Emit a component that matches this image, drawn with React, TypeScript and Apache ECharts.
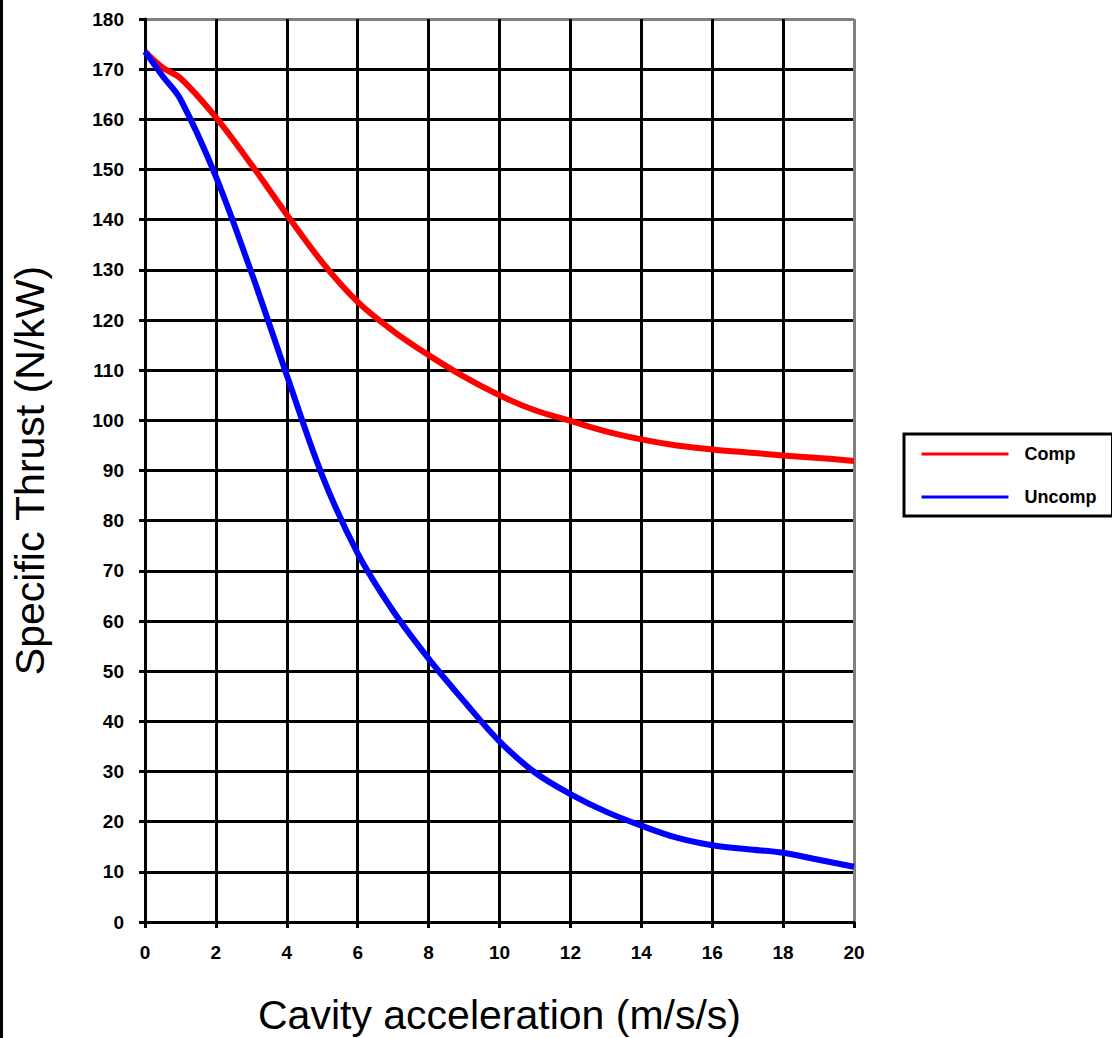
import React, { useEffect, useRef } from "react";
import * as echarts from "echarts";

const xValues = [0, 0.5, 1, 2, 3, 4, 5, 6, 7, 8, 9, 10, 11, 12, 13, 14, 15, 16, 17, 18, 19, 20];
const compValues = [173.5, 170.3, 168.2, 160.4, 151, 141, 131.5, 123.6, 117.8, 113, 108.7, 105, 102, 99.9, 97.8, 96.2, 95, 94.2, 93.6, 93, 92.5, 91.9];
const uncompValues = [173.5, 168.6, 164, 148.6, 129.5, 109, 89, 73.5, 62, 52.5, 44, 36, 29.8, 25.5, 22, 19.2, 16.8, 15.3, 14.5, 13.8, 12.4, 11];
const seriesNames = ["Comp", "Uncomp"];
const xTitle = "Cavity acceleration (m/s/s)";
const yTitle = "Specific Thrust (N/kW)";

export default function App() {
  const ref = useRef<HTMLDivElement>(null);
  useEffect(() => {
    if (!ref.current) return;
    const chart = echarts.init(ref.current, undefined, { renderer: "svg" });
    const ySplitColors = [...Array(18).fill("#000000"), "#808080"];
    const xSplitColors = [...Array(10).fill("#000000"), "#808080"];
    const labelStyle = {
      fontFamily: "Liberation Sans, Arial, sans-serif",
      fontWeight: "bold" as const,
      fontSize: 19,
      color: "#000000",
    };
    chart.setOption({
      animation: false,
      backgroundColor: "#ffffff",
      grid: { left: 145, right: 258, top: 19, bottom: 116, outerBoundsMode: "none" },
      xAxis: {
        type: "value",
        min: 0,
        max: 20,
        interval: 2,
        name: xTitle,
        nameLocation: "middle",
        nameGap: 72,
        nameTextStyle: { fontFamily: "Liberation Sans, Arial, sans-serif", fontSize: 41, color: "#000000" },
        axisLine: { show: true, onZero: false, lineStyle: { color: "#000000", width: 3 } },
        axisTick: { show: true, length: 6, lineStyle: { color: "#000000", width: 3 } },
        axisLabel: { ...labelStyle, margin: 21 },
        splitLine: { show: true, lineStyle: { color: xSplitColors, width: 3 } },
      },
      yAxis: {
        type: "value",
        min: 0,
        max: 180,
        interval: 10,
        name: yTitle,
        nameLocation: "middle",
        nameGap: 95,
        nameRotate: 90,
        nameTextStyle: { fontFamily: "Liberation Sans, Arial, sans-serif", fontSize: 41, color: "#000000" },
        axisLine: { show: true, lineStyle: { color: "#000000", width: 3 } },
        axisTick: { show: true, length: 6, lineStyle: { color: "#000000", width: 3 } },
        axisLabel: { ...labelStyle, margin: 21 },
        splitLine: { show: true, lineStyle: { color: ySplitColors, width: 3 } },
      },
      legend: {
        orient: "vertical",
        left: 904,
        top: 434,
        data: seriesNames,
        itemWidth: 87,
        itemHeight: 14,
        itemGap: 25,
        padding: [11, 16, 10, 16],
        borderColor: "#000000",
        borderWidth: 3,
        backgroundColor: "#ffffff",
        textStyle: { ...labelStyle, fontSize: 18, padding: [4, 0, 0, 11] },
        itemStyle: { opacity: 0 },
        lineStyle: { width: 3 },
      },
      graphic: [
        {
          type: "line",
          shape: { x1: 1.5, y1: 0, x2: 1.5, y2: 1038 },
          style: { stroke: "#000000", lineWidth: 3 },
        },
      ],
      series: [
        {
          name: seriesNames[0],
          type: "line",
          data: xValues.map((x, i) => [x, compValues[i]]),
          smooth: 0.35,
          symbol: "none",
          lineStyle: { color: "#ff0000", width: 6 },
          itemStyle: { color: "#ff0000" },
        },
        {
          name: seriesNames[1],
          type: "line",
          data: xValues.map((x, i) => [x, uncompValues[i]]),
          smooth: 0.35,
          symbol: "none",
          lineStyle: { color: "#0000ff", width: 6 },
          itemStyle: { color: "#0000ff" },
        },
      ],
    });
    return () => chart.dispose();
  }, []);
  return (
    <div
      ref={ref}
      style={{ position: "fixed", left: 0, top: 0, width: 1112, height: 1038 }}
    />
  );
}
